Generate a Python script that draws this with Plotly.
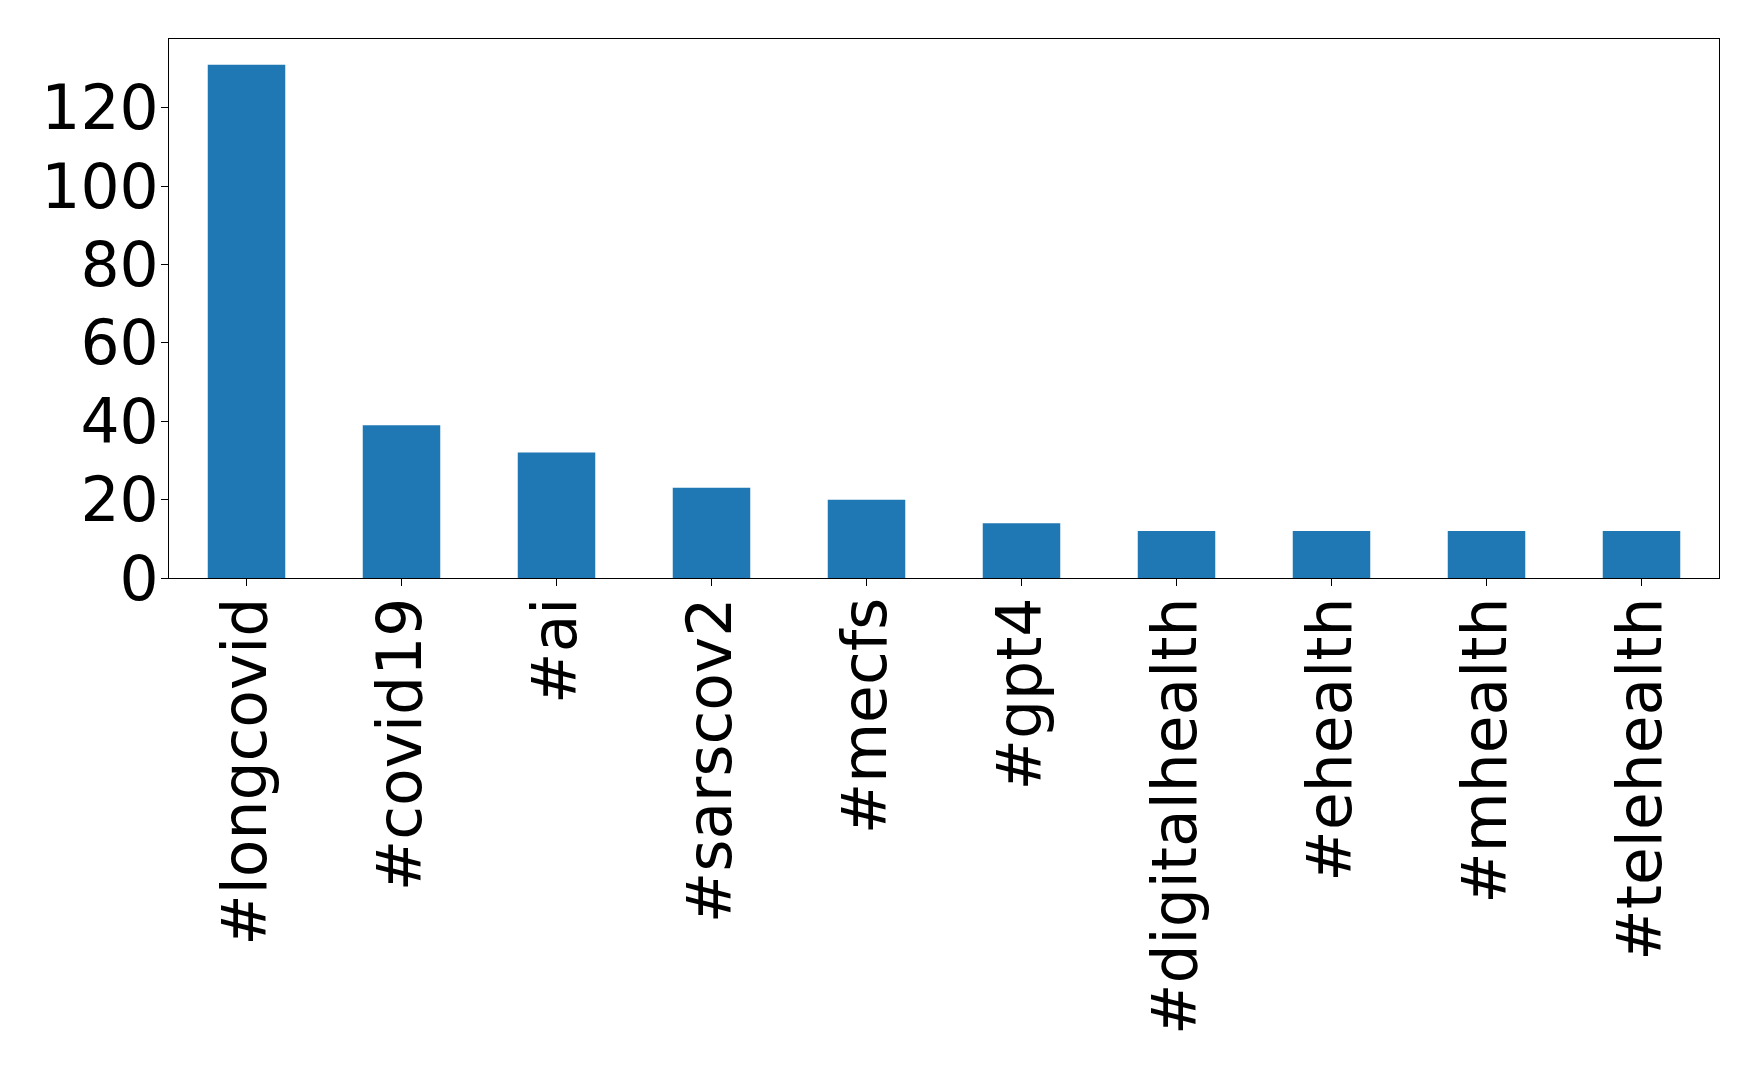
import plotly.graph_objects as go

categories = ["#longcovid", "#covid19", "#ai", "#sarscov2", "#mecfs", "#gpt4",
              "#digitalhealth", "#ehealth", "#mhealth", "#telehealth"]
counts = [131, 39, 32, 23, 20, 14, 12, 12, 12, 12]
y_ticks = [0, 20, 40, 60, 80, 100, 120]

fig = go.Figure(go.Bar(
    x=list(range(len(categories))), y=counts, width=0.5,
    marker=dict(color="#1f77b4", line=dict(width=0)),
))

fig.update_layout(
    width=1750, height=1064,
    margin=dict(l=161, r=39, t=31, b=494),
    paper_bgcolor="white", plot_bgcolor="white",
    font=dict(family="DejaVu Sans", size=61.5, color="black"),
    showlegend=False,
)
fig.update_xaxes(
    range=[-0.5, len(categories) - 0.5],
    tickmode="array", tickvals=list(range(len(categories))), ticktext=categories,
    tickangle=-90, ticks="outside", ticklen=7, tickwidth=1, tickcolor="black",
    showline=True, linecolor="black", linewidth=1, mirror=True,
    showgrid=False, zeroline=False, ticklabelstandoff=-13,
)
fig.update_yaxes(
    range=[0, max(counts) * 1.05],
    tickmode="array", tickvals=y_ticks,
    ticks="outside", ticklen=7, tickwidth=1, tickcolor="black",
    showline=True, linecolor="black", linewidth=1, mirror=True,
    showgrid=False, zeroline=False, ticklabelstandoff=-10,
)

fig.write_html("out.html")
